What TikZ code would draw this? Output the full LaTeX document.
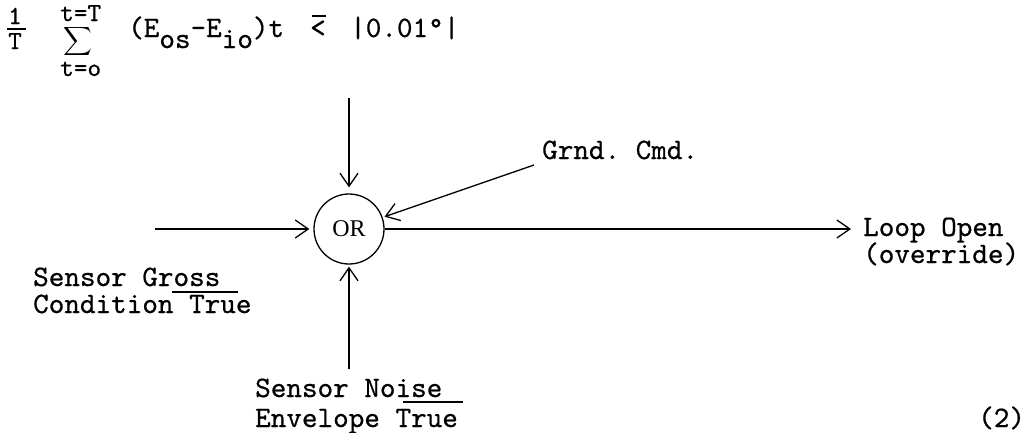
\documentclass[tikz,border=0pt]{standalone}
\usepackage{fontspec}
\usepackage{graphicx}
\setmonofont{lmmono10-regular.otf}[FakeBold=0.6]
\newfontfamily\gatefont{Liberation Serif}
\usepackage{tikz}
\usetikzlibrary{arrows.meta,calc}

\begin{document}
\begin{tikzpicture}[x=1pt,y=-1pt,
  font=\ttfamily\fontsize{29.7}{30}\selectfont,
  txt/.style={inner sep=0pt,anchor=base west},
  small/.style={txt,font=\ttfamily\fontsize{26}{26}\selectfont},
  sig/.style={-{Straight Barb[length=13pt,width=18pt,line width=1.3pt]},line width=1.3pt,shorten >=2pt},
  gate/.style={circle,draw,line width=1.3pt,minimum size=70pt,inner sep=0pt,font=\gatefont\fontsize{24}{24}\selectfont},
  bar/.style={line width=1.2pt},
]
\useasboundingbox (0,0) rectangle (1025,432);

% averaging condition
\node[small] (one) at (8,24) {1};
\node[small] (den) at (8,49) {T};
\draw[bar] (7,29) -- (26,29);
\node[small] (upper) at (60,21) {t=T};
\node[inner sep=0pt,font=\fontsize{10}{12}\selectfont] (sum) at (78,41) {\scalebox{2}{$\displaystyle\sum$}};
\node[small] (lower) at (60,76) {t=o};
\node[txt] (expr) at (128,37) {(E\raisebox{-11pt}{os}-E\raisebox{-11pt}{io})t};
\node[txt] (lt) at (310,37) {<};
\draw[bar] (312,16) -- (326,16);
\node[txt] (bound) at (350,37) {|0.01°|};

% gate and inputs
\node[gate] (or) at (349,229) {OR};
\coordinate (avg) at (349,98);
\coordinate (gross in) at (155,229);
\coordinate (noise in) at (349,369);
\coordinate (open out) at (851,229);

\node[txt] (grnd) at (542,159) {Grnd. Cmd.};
\node[txt] (gross) at (33,286) {Sensor Gross};
\node[txt] (cond) at (33,313) {Condition True};
\draw[bar] (172,292) -- (238,292);
\node[txt] (noise) at (255,397) {Sensor Noise};
\node[txt] (env) at (255,427) {Envelope True};
\draw[bar] (403,402) -- (463,402);
\node[txt] (loop) at (863,236) {Loop Open};
\node[txt] (ovr) at (863,263) {(override)};
\node[txt] (eqno) at (978,427) {(2)};

\draw[sig,shorten >=6pt] (avg) -- (or);
\draw[sig] ([xshift=-8pt,yshift=-6pt]grnd.base west) -- (or);
\draw[sig,shorten >=4pt] (gross in) -- (or);
\draw[sig] (noise in) -- (or);
\draw[sig,shorten >=0pt] (or) -- (open out);
\end{tikzpicture}
\end{document}
